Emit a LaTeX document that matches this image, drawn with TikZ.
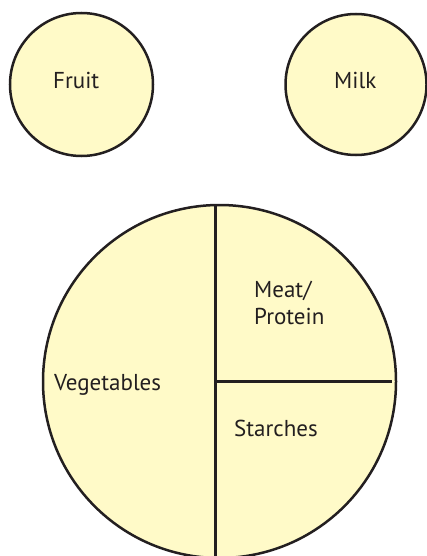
\documentclass[tikz,border=0pt]{standalone}
\usepackage{fontspec}
\setmainfont{PT Sans}
\definecolor{plate}{RGB}{255,250,200}
\definecolor{ink}{RGB}{35,31,32}
\begin{document}
\begin{tikzpicture}[x=1pt,y=-1pt,
  plate/.style={draw=ink,line width=2.5pt,fill=plate},
  divider/.style={draw=ink,line width=3pt},
  lbl/.style={text=ink,font=\fontsize{23}{27}\selectfont,inner sep=0pt,anchor=base west,align=left}]
\useasboundingbox (0,0) rectangle (427,556);
\begin{scope}
\clip (0,0) rectangle (427,556);
\node[plate,circle,minimum size=143pt,inner sep=0pt] (fruit) at (81.5,84.5) {};
\node[plate,circle,minimum size=141pt,inner sep=0pt] (milk) at (356,84.5) {};
\node[plate,circle,minimum size=353pt,inner sep=0pt] (plate) at (219.5,381.5) {};
\coordinate (vtop) at (215.8,204);
\coordinate (vbot) at (215.8,560);
\coordinate (hmid) at (215.8,381.5);
\coordinate (hend) at (392,381.5);
\draw[divider] (vtop) -- (vbot);
\draw[divider] (hmid) -- (hend);
\end{scope}
\node[lbl] (tfruit) at (53,89) {Fruit};
\node[lbl] (tmilk) at (334,89) {Milk};
\node[lbl] (tveg) at (54,390) {Vegetables};
\node[lbl] (tmeat) at (254,297) {Meat/};
\node[lbl] (tprot) at (254,324) {Protein};
\node[lbl] (tstarch) at (234,436.5) {Starches};
\end{tikzpicture}
\end{document}
